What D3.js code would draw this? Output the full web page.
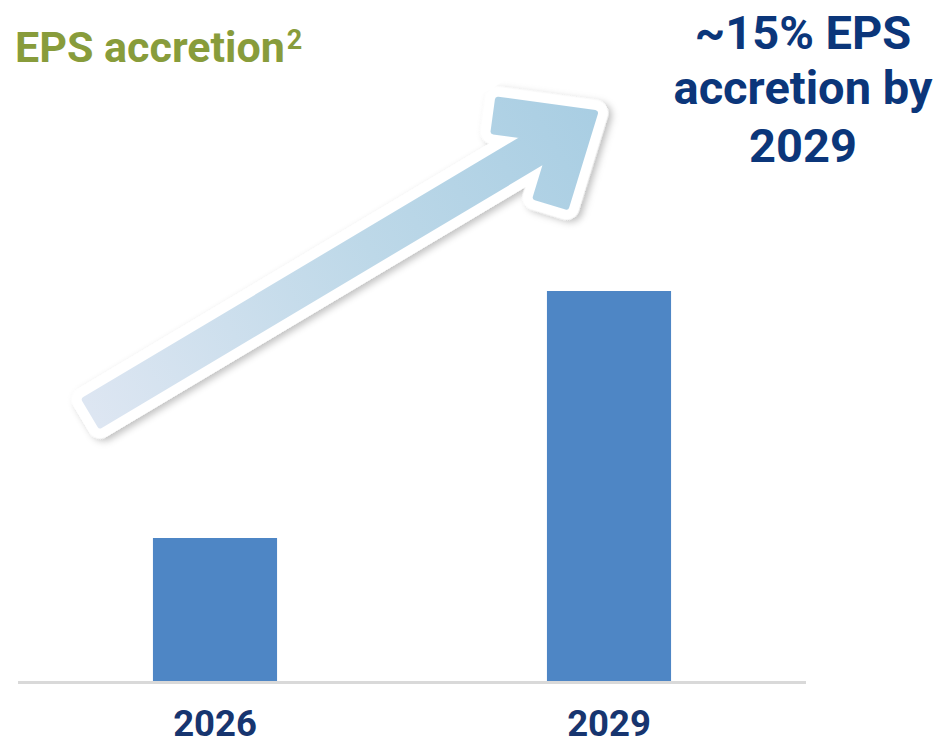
<!DOCTYPE html>
<html>
<head>
<meta charset="utf-8">
<script src="https://cdn.jsdelivr.net/npm/d3@7/dist/d3.min.js"></script>
<style>
  html, body { margin: 0; padding: 0; background: #ffffff; }
  svg { display: block; font-family: Roboto, "Liberation Sans", Arial, sans-serif; }
</style>
</head>
<body>
<svg id="chart" width="941" height="744"></svg>
<script>
// ---- data ----
const categories = ["2026", "2029"];
const values = [5.5, 15];           // EPS accretion, %
const titleText = "EPS accretion";
const titleSup = "2";
const calloutLines = ["~15% EPS", "accretion by", "2029"];

// ---- layout ----
const W = 941, H = 744;
const svg = d3.select("#chart");
const baseY = 681;

const x = d3.scaleBand()
  .domain(categories)
  .range([18, 806])
  .paddingInner(0.685)
  .paddingOuter(0.3425);

const y = d3.scaleLinear()
  .domain([0, 15])
  .range([baseY, 291]);

const defs = svg.append("defs");

// shadow filter for arrow outline
const f = defs.append("filter").attr("id", "shadow")
  .attr("x", "-10%").attr("y", "-10%").attr("width", "120%").attr("height", "130%");
f.append("feDropShadow").attr("dx", 2).attr("dy", 4).attr("stdDeviation", 3.5)
  .attr("flood-color", "#000").attr("flood-opacity", 0.25);

// ---- arrow (decorative) ----
const Ltot = 585, h = 15, L = 98, t = 32;
const deg = Math.PI / 180;
const dA = [Math.cos(218.6 * deg), Math.sin(218.6 * deg)];
const dB = [Math.cos(137.8 * deg), Math.sin(137.8 * deg)];
const nA = [-dA[1], dA[0]];   // inward normals
const nB = [dB[1], -dB[0]];
function fixN(n, sign) { return (n[1] * sign > 0) ? n : [-n[0], -n[1]]; }
const nAi = fixN(nA, 1), nBi = fixN(nB, -1);
function intersect(p1, d1, p2, d2) {
  const det = d1[0] * (-d2[1]) - d1[1] * (-d2[0]);
  const bx = p2[0] - p1[0], by = p2[1] - p1[1];
  const s = (bx * (-d2[1]) - by * (-d2[0])) / det;
  return [p1[0] + s * d1[0], p1[1] + s * d1[1]];
}
const A_end = [L * dA[0], L * dA[1]];
const B_end = [L * dB[0], L * dB[1]];
const A_in0 = [t * nAi[0], t * nAi[1]];
const B_in0 = [t * nBi[0], t * nBi[1]];
const A_inEnd = [A_end[0] + t * nAi[0], A_end[1] + t * nAi[1]];
const B_inEnd = [B_end[0] + t * nBi[0], B_end[1] + t * nBi[1]];
const J_top = intersect(A_in0, dA, [0, -h], [1, 0]);
const J_bot = intersect(B_in0, dB, [0, h], [1, 0]);
const pts = [
  [0, 0], A_end, A_inEnd, J_top, [-Ltot, -h],
  [-Ltot, h], J_bot, B_inEnd, B_end
];
const grad = defs.append("linearGradient").attr("id", "arrowGrad")
  .attr("gradientUnits", "userSpaceOnUse")
  .attr("x1", -Ltot).attr("y1", 0).attr("x2", 0).attr("y2", 0);
grad.append("stop").attr("offset", 0).attr("stop-color", "#dde6f2");
grad.append("stop").attr("offset", 0.55).attr("stop-color", "#bdd8e8");
grad.append("stop").attr("offset", 1).attr("stop-color", "#a9cee3");

const tipX = x("2029") + x.bandwidth() / 2 - 14;   // head tip sits above-left of the 2029 bar
const tipY = 113;
const arrow = svg.append("g")
  .attr("transform", `translate(${tipX},${tipY}) rotate(-30.8)`);
const line = d3.line();
arrow.append("path")
  .attr("d", line(pts) + "Z")
  .attr("fill", "#ffffff")
  .attr("stroke", "#ffffff")
  .attr("stroke-width", 26)
  .attr("stroke-linejoin", "round")
  .attr("filter", "url(#shadow)");
arrow.append("path")
  .attr("d", line(pts) + "Z")
  .attr("fill", "url(#arrowGrad)")
  .attr("stroke", "url(#arrowGrad)")
  .attr("stroke-width", 6)
  .attr("stroke-linejoin", "round");

// ---- bars ----
svg.append("g").selectAll("rect")
  .data(categories.map((c, i) => ({ c, v: values[i] })))
  .join("rect")
  .attr("x", d => x(d.c))
  .attr("width", x.bandwidth())
  .attr("y", d => y(d.v))
  .attr("height", d => y(0) - y(d.v))
  .attr("fill", "#4e86c5");

// baseline axis
const xAxis = svg.append("g")
  .attr("transform", `translate(0,${baseY + 1.5})`)
  .call(d3.axisBottom(x).tickSize(0));
xAxis.select(".domain").attr("stroke", "#d9d9d9").attr("stroke-width", 3)
  .attr("d", `M18,0H806`);
xAxis.selectAll(".tick text")
  .attr("fill", "#17356f")
  .attr("font-family", "Roboto, sans-serif")
  .attr("font-weight", 700)
  .attr("font-size", 36.5)
  .attr("dy", null)
  .attr("y", 53);

// ---- title ----
const title = svg.append("text")
  .attr("x", 15).attr("y", 62)
  .attr("fill", "#889c3b")
  .attr("font-weight", 700)
  .attr("font-size", 43);
title.append("tspan").text(titleText);
title.append("tspan").text(titleSup)
  .attr("font-size", 27).attr("dx", 2).attr("dy", -13);

// ---- callout ----
const callY = [49, 104, 162];
svg.append("g").selectAll("text")
  .data(calloutLines)
  .join("text")
  .attr("x", 803)
  .attr("y", (d, i) => callY[i])
  .attr("text-anchor", "middle")
  .attr("fill", "#0b367a")
  .attr("font-weight", 700)
  .attr("font-size", 47)
  .text(d => d);
</script>
</body>
</html>
